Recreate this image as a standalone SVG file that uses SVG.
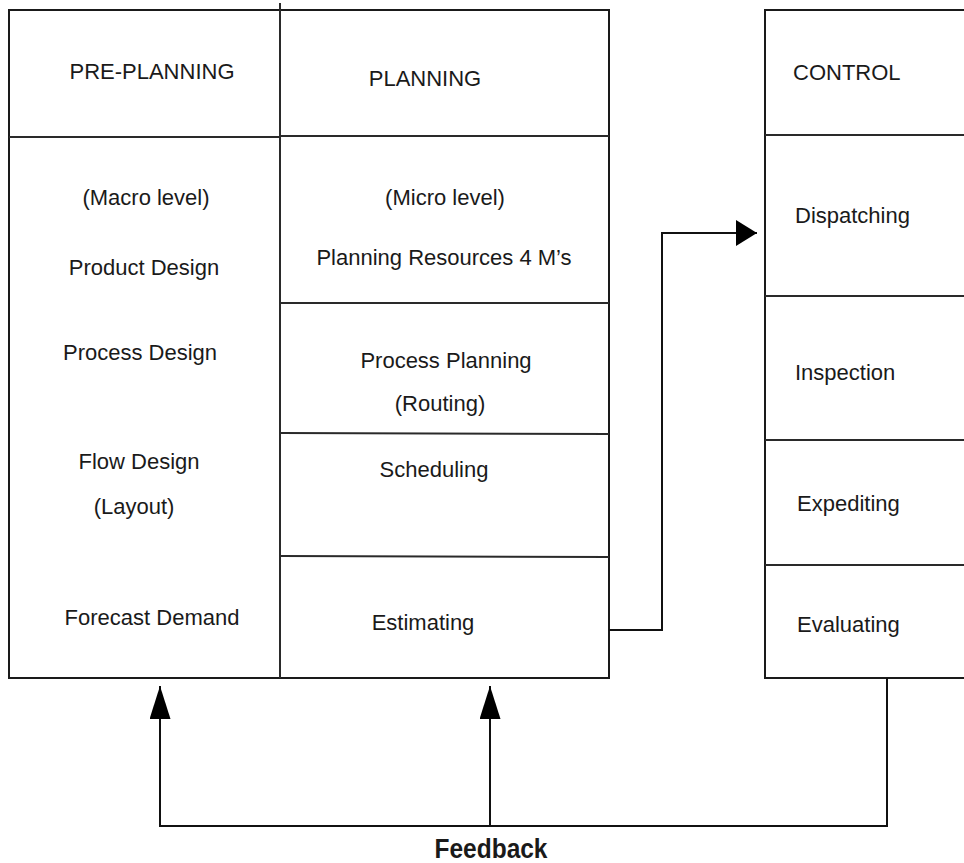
<svg xmlns="http://www.w3.org/2000/svg" width="964" height="863" viewBox="0 0 964 863">
  <style>
    .box { fill: #ffffff; stroke: #1a1a1a; stroke-width: 2; }
    .rule { stroke: #2a2a2a; stroke-width: 2; fill: none; }
    .lbl { font-family: "Liberation Sans", Arial, sans-serif; font-size: 22px; fill: #1a1a1a; text-anchor: middle; }
    .lft { text-anchor: start; }
    .wire { stroke: #111111; stroke-width: 2; fill: none; }
    .fb { font-family: "Liberation Sans", Arial, sans-serif; font-size: 27px; font-weight: bold; fill: #1a1a1a; text-anchor: middle; }
  </style>
  <defs>
    <marker id="arrowUp" markerUnits="userSpaceOnUse" markerWidth="34" markerHeight="22" refX="33" refY="10.5" orient="auto">
      <path d="M0,0 L33,10.5 L0,21 z" fill="#000"/>
    </marker>
    <marker id="arrowSide" markerUnits="userSpaceOnUse" markerWidth="22" markerHeight="27" refX="21" refY="13" orient="auto">
      <path d="M0,0 L21,13 L0,26 z" fill="#000"/>
    </marker>
  </defs>

  <rect width="964" height="863" fill="#ffffff"/>

  <!-- Pre-planning column -->
  <g id="pre-planning">
    <rect class="box" x="9" y="10" width="271" height="668"/>
    <line class="rule" x1="9" y1="137" x2="280" y2="137"/>
    <text class="lbl" x="152" y="79">PRE-PLANNING</text>
    <text class="lbl" x="146" y="205">(Macro level)</text>
    <text class="lbl" x="144" y="275">Product Design</text>
    <text class="lbl" x="140" y="360">Process Design</text>
    <text class="lbl" x="139" y="469">Flow Design</text>
    <text class="lbl" x="134" y="514">(Layout)</text>
    <text class="lbl" x="152" y="625">Forecast Demand</text>
  </g>

  <!-- Planning column -->
  <g id="planning">
    <rect class="box" x="280" y="10" width="329" height="668"/>
    <line class="rule" x1="280" y1="3" x2="280" y2="678"/>
    <line class="rule" x1="280" y1="136" x2="609" y2="136"/>
    <line class="rule" x1="280" y1="303" x2="609" y2="303"/>
    <line class="rule" x1="280" y1="433" x2="609" y2="434"/>
    <line class="rule" x1="280" y1="556" x2="609" y2="557"/>
    <text class="lbl" x="425" y="86">PLANNING</text>
    <text class="lbl" x="445" y="205">(Micro level)</text>
    <text class="lbl" x="444" y="265">Planning Resources 4 M’s</text>
    <text class="lbl" x="446" y="368">Process Planning</text>
    <text class="lbl" x="440" y="411">(Routing)</text>
    <text class="lbl" x="434" y="477">Scheduling</text>
    <text class="lbl" x="423" y="630">Estimating</text>
  </g>

  <!-- Control column -->
  <g id="control">
    <rect class="box" x="765" y="10" width="220" height="668"/>
    <line class="rule" x1="765" y1="135" x2="985" y2="135"/>
    <line class="rule" x1="765" y1="296" x2="985" y2="296"/>
    <line class="rule" x1="765" y1="440" x2="985" y2="440"/>
    <line class="rule" x1="765" y1="565" x2="985" y2="565"/>
    <text class="lbl lft" x="793" y="80">CONTROL</text>
    <text class="lbl lft" x="795" y="223">Dispatching</text>
    <text class="lbl lft" x="795" y="380">Inspection</text>
    <text class="lbl lft" x="797" y="511">Expediting</text>
    <text class="lbl lft" x="797" y="632">Evaluating</text>
  </g>

  <!-- Connectors -->
  <g id="connectors">
    <path class="wire" d="M609,630 H662 V233 H757" marker-end="url(#arrowSide)"/>
    <path class="wire" d="M887,678 V826 H160 V686" marker-end="url(#arrowUp)"/>
    <path class="wire" d="M490,826 V686" marker-end="url(#arrowUp)"/>
    <text class="fb" x="491" y="858" textLength="113" lengthAdjust="spacingAndGlyphs">Feedback</text>
  </g>
</svg>
